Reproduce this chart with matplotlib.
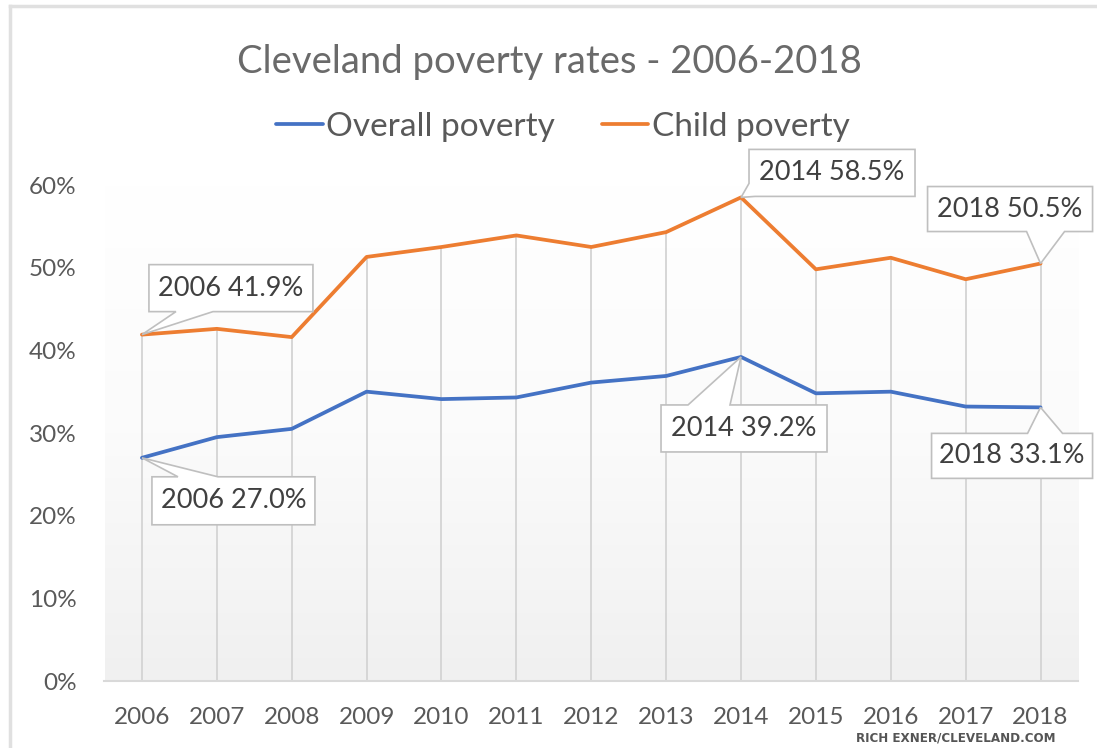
import numpy as np
import matplotlib
matplotlib.use("Agg")
import matplotlib.pyplot as plt
from matplotlib.patches import Polygon
from matplotlib.lines import Line2D
from matplotlib import transforms as mtransforms
from matplotlib.colors import LinearSegmentedColormap
from matplotlib.ticker import FuncFormatter

# ---------------- data ----------------
years = ['2006', '2007', '2008', '2009', '2010', '2011', '2012',
         '2013', '2014', '2015', '2016', '2017', '2018']
overall_poverty = [27.0, 29.5, 30.5, 35.0, 34.1, 34.3, 36.1, 36.9, 39.2, 34.8, 35.0, 33.2, 33.1]
child_poverty = [41.9, 42.6, 41.6, 51.3, 52.5, 53.9, 52.5, 54.3, 58.5, 49.8, 51.2, 48.6, 50.5]
series_names = ['Overall poverty', 'Child poverty']
title = 'Cleveland poverty rates - 2006-2018'
source = 'RICH EXNER/CLEVELAND.COM'
y_ticks = [0, 10, 20, 30, 40, 50, 60]

# callouts: (series key, year label)
callouts = [('child', '2006'), ('overall', '2006'),
            ('child', '2014'), ('overall', '2014'),
            ('child', '2018'), ('overall', '2018')]

# ---------------- style ----------------
BLUE = '#4472C4'
ORANGE = '#ED7D31'
TXT = '#595959'
FONT = ['Lato', 'DejaVu Sans']
plt.rcParams['font.family'] = FONT

W, H, DPI = 1097, 748, 100
fig = plt.figure(figsize=(W / DPI, H / DPI), dpi=DPI)
fig.patch.set_facecolor('white')

# plot area (pixel layout)
left_px, right_px, top_px, bottom_px = 104.5, 1078, 185, 681
ax = fig.add_axes([left_px / W, (H - bottom_px) / H,
                   (right_px - left_px) / W, (bottom_px - top_px) / H])

x = np.arange(len(years))
series = {'overall': overall_poverty, 'child': child_poverty}

# gradient background
cmap = LinearSegmentedColormap.from_list('bg', ['#f0f0f0', '#fbfbfb', '#ffffff'])
grad = np.linspace(0, 1, 256).reshape(-1, 1)
ax.imshow(grad, cmap=cmap, extent=[0, 1, 0, 1], transform=ax.transAxes,
          aspect='auto', origin='lower', zorder=0)

# drop lines
ax.vlines(x, 0, [max(a, b) for a, b in zip(overall_poverty, child_poverty)],
          color='#d4d4d4', lw=1.3, zorder=1)

l1, = ax.plot(x, overall_poverty, color=BLUE, lw=2.7, zorder=3,
              solid_joinstyle='round', solid_capstyle='round')
l2, = ax.plot(x, child_poverty, color=ORANGE, lw=2.7, zorder=3,
              solid_joinstyle='round', solid_capstyle='round')

ax.set_xlim(-0.5, len(years) - 0.5)
ax.set_ylim(0, 60)
ax.set_xticks(x)
ax.set_xticklabels(years)
ax.set_yticks(y_ticks)
ax.yaxis.set_major_formatter(FuncFormatter(lambda v, p: f'{v:.0f}%'))
ax.tick_params(axis='both', length=0, labelsize=17.5, colors=TXT)
ax.tick_params(axis='y', pad=20)
ax.tick_params(axis='x', pad=19)
for s in ['left', 'right', 'top']:
    ax.spines[s].set_visible(False)
ax.spines['bottom'].set_color('#d9d9d9')
ax.spines['bottom'].set_linewidth(1.5)
ax.spines['bottom'].set_zorder(2)

# ---------------- callouts ----------------
# shapes in pixel offsets from anchor (image coords, y down): vertices, text centre
shapes = [
    ([(0, 0), (34, -23), (7, -23), (7, -70), (171, -70), (171, -23), (71, -23)], (89, -46.5)),
    ([(0, 0), (76, 19), (173, 19), (173, 67), (10, 67), (10, 19), (36, 19)], (91.5, 43)),
    ([(0, 0), (8, -14), (8, -48), (174, -48), (174, -1), (14, -1)], (91, -24.5)),
    ([(0, 0), (-11, 48), (86, 48), (86, 95), (-80, 95), (-80, 48), (-53, 48)], (3, 71.5)),
    ([(0, 0), (24, -32), (52, -32), (52, -77), (-113, -77), (-113, -32), (-14, -32)], (-30.5, -54.5)),
    ([(0, 0), (22, 26), (52, 26), (52, 71), (-109, 71), (-109, 26), (-13, 26)], (-28.5, 48.5)),
]
for (key, yr), (verts, tc) in zip(callouts, shapes):
    i = years.index(yr)
    val = series[key][i]
    tr = mtransforms.Affine2D().scale(1, -1) + mtransforms.ScaledTranslation(i, val, ax.transData)
    poly = Polygon(verts, closed=True, facecolor='white', edgecolor='#bfbfbf',
                   lw=1.2, transform=tr, zorder=4, clip_on=False)
    ax.add_patch(poly)
    ax.text(tc[0], tc[1], f'{yr} {val:.1f}%', transform=tr, ha='center', va='center',
            fontsize=19.5, color='#404040', zorder=5, clip_on=False)

# ---------------- title & legend ----------------
fig.text(549 / W, (H - 62) / H, title, ha='center', va='center',
         fontsize=27.5, color='#6a6a6a')
leg = fig.legend([l1, l2], series_names, loc='center', ncol=2,
                 bbox_to_anchor=(563 / W, (H - 127) / H), frameon=False,
                 fontsize=24, handlelength=1.4, handletextpad=0.1,
                 columnspacing=1.4, labelcolor=TXT)

# source
fig.text(1056 / W, (H - 738) / H, source, ha='right', va='center',
         fontsize=9.5, fontweight='bold', fontstretch='condensed',
         family=['DejaVu Sans'], color='#555555')

# chart frame
fig.add_artist(Line2D([10 / W, 1], [(H - 6) / H, (H - 6) / H],
                      transform=fig.transFigure, color='#e0e0e0', lw=2.5))
fig.add_artist(Line2D([10 / W, 10 / W], [0, (H - 6) / H],
                      transform=fig.transFigure, color='#e0e0e0', lw=2.5))

fig.savefig('out.png', dpi=DPI)
